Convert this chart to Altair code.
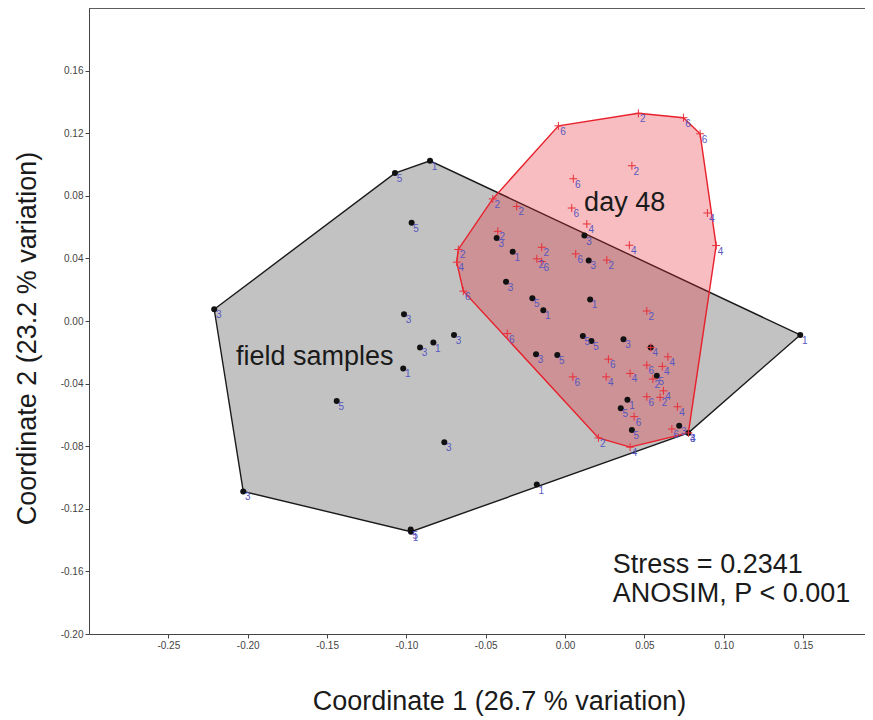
import altair as alt
import pandas as pd

# ---- data ----
field_x = [-0.2211, -0.2028, -0.1072, -0.0851, -0.0967, -0.1015, -0.0700, -0.0830, -0.0914, -0.1020,
           -0.1439, -0.0761, -0.0178, -0.0973, -0.0971, 0.1482, -0.0431, -0.0330, 0.0122, 0.0149,
           -0.0372, -0.0206, 0.0158, -0.0137, 0.0112, 0.0166, 0.0368, -0.0183, -0.0049, 0.0540,
           0.0578, 0.0393, 0.0351, 0.0421, 0.0719, 0.0777]
field_y = [0.0075, -0.1089, 0.0945, 0.1024, 0.0627, 0.0043, -0.0089, -0.0138, -0.0169, -0.0303,
           -0.0511, -0.0775, -0.1045, -0.1333, -0.1346, -0.0089, 0.0531, 0.0442, 0.0546, 0.0387,
           0.0251, 0.0145, 0.0138, 0.0068, -0.0096, -0.0127, -0.0117, -0.0212, -0.0218, -0.0169,
           -0.0350, -0.0503, -0.0558, -0.0696, -0.0669, -0.0715]
field_lab = ["3", "3", "5", "1", "5", "3", "3", "1", "3", "1",
             "5", "3", "1", "5", "1", "1", "3", "1", "3", "3",
             "3", "5", "1", "1", "5", "5", "3", "3", "5", "",
             "5", "1", "5", "5", "3", "3"]

day_x = [-0.0042, 0.0462, 0.0746, 0.0851, 0.0421, 0.0052, 0.0042, 0.0137, -0.0456, -0.0305,
         0.0897, 0.0952, 0.0405, -0.0424, -0.0147, -0.0178, -0.0147, 0.0067, 0.0263, -0.0673,
         -0.0683, -0.0641, 0.0515, -0.0364, 0.0540, 0.0648, 0.0273, 0.0515, 0.0613, 0.0553,
         0.0049, 0.0259, 0.0410, 0.0620, 0.0515, 0.0599, 0.0708, 0.0435, 0.0673, 0.0777,
         0.0210, 0.0410]
day_y = [0.1247, 0.1327, 0.1299, 0.1196, 0.0992, 0.0909, 0.0722, 0.0620, 0.0780, 0.0732,
         0.0690, 0.0482, 0.0484, 0.0573, 0.0471, 0.0397, 0.0380, 0.0429, 0.0389, 0.0457,
         0.0376, 0.0191, 0.0064, -0.0080, -0.0169, -0.0229, -0.0244, -0.0282, -0.0290, -0.0371,
         -0.0357, -0.0357, -0.0335, -0.0446, -0.0484, -0.0488, -0.0548, -0.0611, -0.0690, -0.0715,
         -0.0747, -0.0806]
day_lab = ["6", "2", "6", "6", "2", "6", "6", "4", "2", "2",
           "4", "4", "4", "2", "2", "2", "6", "6", "2", "2",
           "4", "6", "2", "6", "4", "4", "6", "6", "4", "2",
           "6", "4", "4", "4", "6", "2", "4", "6", "6", "4",
           "2", "4"]

x_ticks = [-0.25, -0.20, -0.15, -0.10, -0.05, 0.00, 0.05, 0.10, 0.15]
y_ticks = [-0.20, -0.16, -0.12, -0.08, -0.04, 0.00, 0.04, 0.08, 0.12, 0.16]

annot_text = ["field samples", "day 48", "Stress = 0.2341", "ANOSIM, P < 0.001"]
annot_x = [-0.2074, 0.0120, 0.0301, 0.0301]
annot_y = [-0.0282, 0.0701, -0.1613, -0.1798]


def convex_hull(xs, ys):
    pts = sorted(set(zip(xs, ys)))

    def cross(o, a, b):
        return (a[0] - o[0]) * (b[1] - o[1]) - (a[1] - o[1]) * (b[0] - o[0])

    lower, upper = [], []
    for p in pts:
        while len(lower) >= 2 and cross(lower[-2], lower[-1], p) <= 0:
            lower.pop()
        lower.append(p)
    for p in reversed(pts):
        while len(upper) >= 2 and cross(upper[-2], upper[-1], p) <= 0:
            upper.pop()
        upper.append(p)
    h = lower[:-1] + upper[:-1]
    return h + [h[0]]


def hull_df(xs, ys):
    h = convex_hull(xs, ys)
    return pd.DataFrame({"x": [p[0] for p in h], "y": [p[1] for p in h], "i": list(range(len(h)))})


field_hull = hull_df(field_x, field_y)
day_hull = hull_df(day_x, day_y)
field_df = pd.DataFrame({"x": field_x, "y": field_y, "lab": field_lab})
day_df = pd.DataFrame({"x": day_x, "y": day_y, "lab": day_lab})
annot_df = pd.DataFrame({"x": annot_x, "y": annot_y, "t": annot_text})

W, H = 776, 626
FONT = "Liberation Sans"

xscale = alt.Scale(domain=[-0.30, 0.189], nice=False, zero=False)
yscale = alt.Scale(domain=[-0.20, 0.20], nice=False, zero=False)

minus_fix = "replace(format(datum.value, '.2f'), '\u2212', '-')"

common_axis = dict(
    grid=False, tickSize=4, labelExpr=minus_fix,
    labelFont=FONT, labelFontSize=10, labelColor="#444444", labelPadding=2,
    tickColor="#444444", domainColor="#444444", domainWidth=1,
    titleFont=FONT, titleFontSize=27, titleFontWeight="normal", titleColor="#1a1a1a",
    titleAlign="center", titleBaseline="middle",
)

xaxis = alt.Axis(values=x_ticks, title="Coordinate 1 (26.7 % variation)",
                 titleX=410, titleY=67, **common_axis)
yaxis = alt.Axis(values=y_ticks, title="Coordinate 2 (23.2 % variation)",
                 titleX=-62, titleY=330, titleAngle=270, **common_axis)

X = alt.X("x:Q", scale=xscale, axis=xaxis)
Y = alt.Y("y:Q", scale=yscale, axis=yaxis)

field_poly = alt.Chart(field_hull).mark_line(
    fill="#c2c2c2", fillOpacity=1, stroke="#1a1a1a", strokeWidth=1.4
).encode(x=X, y=Y, order=alt.Order("i:Q"))

day_poly = alt.Chart(day_hull).mark_line(
    fill="#e5262f", fillOpacity=0.3, stroke="#e8202c", strokeWidth=1.4
).encode(x=X, y=Y, order=alt.Order("i:Q"))

dots = alt.Chart(field_df).mark_point(
    shape="circle", filled=True, color="#111111", size=36, opacity=1
).encode(x=X, y=Y)

crosses = alt.Chart(day_df).mark_point(
    shape="M-1,0L1,0M0,-1L0,1", filled=False, stroke="#e8303a", strokeWidth=1, size=64, opacity=1
).encode(x=X, y=Y)

lab_style = dict(align="center", baseline="middle", dx=4.5, dy=6, fontSize=10, font=FONT, color="#5757c0")
field_labels = alt.Chart(field_df).mark_text(**lab_style).encode(x=X, y=Y, text="lab:N")
day_labels = alt.Chart(day_df).mark_text(**lab_style).encode(x=X, y=Y, text="lab:N")

annots = alt.Chart(annot_df).mark_text(
    align="left", baseline="alphabetic", fontSize=27, font=FONT, color="#1a1a1a"
).encode(x=X, y=Y, text="t:N")

top_line = alt.Chart(annot_df).mark_rule(color="#555555", strokeWidth=1).encode(
    x=alt.value(0), x2=alt.value(W), y=alt.value(0)
)

chart = alt.layer(
    field_poly, day_poly, dots, crosses, field_labels, day_labels, annots, top_line
).properties(
    width=W, height=H,
    autosize=alt.AutoSizeParams(type="none"),
    padding={"left": 81, "top": 0, "right": 0, "bottom": 85},
).configure_view(stroke=None).configure(background="white")

chart.save("out.html", embed_options={"renderer": "svg", "actions": False})
